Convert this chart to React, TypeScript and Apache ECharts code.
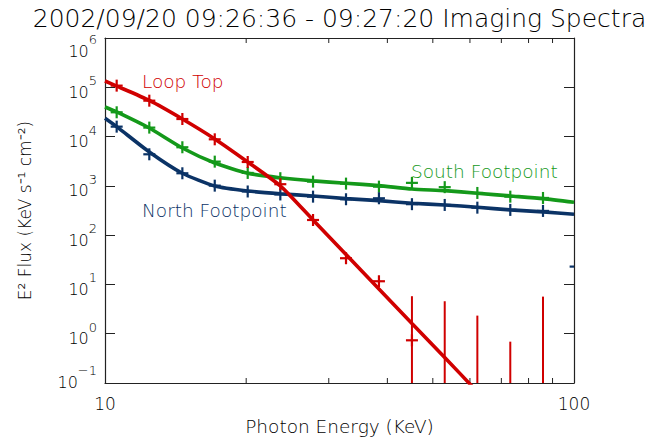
import React, { useEffect, useRef } from "react";
import * as echarts from "echarts";

// Photon energy bin centres (keV)
const energies = [10.59, 12.43, 14.62, 17.14, 20.15, 23.65, 27.77, 32.65, 38.38, 45.13, 53.01, 62.22, 73.14, 85.88, 100.8];

// Measured E^2 flux per source (KeV s^-1 cm^-2)
const loopTopFlux = [1.08e5, 5.35e4, 2.27e4, 8.8e3, 3.05e3, 1.08e3, 203, 34, 11.6, 0.735, null, null, null, null, null];
const loopTopErrLow = [null, null, null, null, null, null, null, null, null, 0.01, 0.01, 0.01, 0.01, 0.01, null];
const loopTopErrHigh = [null, null, null, null, null, null, null, null, null, 5.77, 4.56, 2.33, 0.69, 5.66, null];
const southFlux = [3.11e4, 1.52e4, 6.07e3, 3.1e3, 1.83e3, 1.43e3, 1.22e3, 1.11e3, 964, 1.15e3, 941, 718, 604, 568, null];
const northFlux = [1.59e4, 4.37e3, 1.8e3, 1.01e3, 769, 669, 604, 535, 560, 425, 410, 361, 325, 310, 23];

// Fitted model curves
const fitEnergies = [10, 10.59, 12.43, 14.62, 17.14, 20.15, 23.65, 27.77, 32.65, 38.38, 45.13, 53.01, 62.22, 73.14, 85.88, 100];
const loopTopFit = [1.34e5, 1.06e5, 5.4e4, 2.27e4, 8.94e3, 3.05e3, 1.0e3, 203, 40.6, 8.1, 1.62, 0.33, 0.066, null, null, null];
const southFit = [3.98e4, 3.16e4, 1.49e4, 5.87e3, 2.91e3, 1.8e3, 1.46e3, 1.26e3, 1.13e3, 1.01e3, 865, 799, 708, 624, 551, 465];
const northFit = [2.35e4, 1.59e4, 4.87e3, 1.8e3, 995, 788, 692, 624, 550, 501, 444, 410, 368, 325, 296, 265];

// Minor tick positions on the energy axis
const minorTickEnergies = [20, 30, 40, 50, 60, 70, 80, 90];

const TITLE = "2002/09/20 09:26:36 - 09:27:20 Imaging Spectra";
const FONT = "DejaVu Sans";
const WEIGHT = 200;
const RED = "#d00000";
const GREEN = "#14991a";
const NAVY = "#0b3366";
const AXIS = "#222";

function plusSeries(values: (number | null)[], color: string) {
  return {
    type: "custom",
    clip: true,
    z: 5,
    encode: { x: 0, y: 1 },
    data: energies.map((e, i) => [e, values[i]]).filter((d) => d[1] != null),
    renderItem: (_p: any, api: any) => {
      const p = api.coord([api.value(0), api.value(1)]);
      const h = 6;
      return {
        type: "group",
        children: [
          { type: "line", shape: { x1: p[0] - h, y1: p[1], x2: p[0] + h, y2: p[1] }, style: { stroke: color, lineWidth: 2.2 } },
          { type: "line", shape: { x1: p[0], y1: p[1] - h, x2: p[0], y2: p[1] + h }, style: { stroke: color, lineWidth: 2.2 } },
        ],
      };
    },
  };
}

function fitSeries(values: (number | null)[], color: string, z: number) {
  return {
    type: "line",
    data: fitEnergies.map((e, i) => [e, values[i]]).filter((d) => d[1] != null),
    showSymbol: false,
    symbol: "none",
    smooth: 0.2,
    clip: true,
    z,
    lineStyle: { color, width: 3.6 },
  };
}

// Decade labels as 10 with a raised exponent; the end labels are nudged inward
function expLabel(v: number) {
  const e = Math.round(Math.log10(v));
  const s = e < 0 ? "\u2212" + -e : String(e);
  const core = `{b|10}{e|${s}}`;
  if (e >= 6) return `{s|}\n${core}`;
  if (e <= -1) return `${core}\n{t|}`;
  return core;
}

const logX = (position: "bottom" | "top", labels: boolean) => ({
  type: "log",
  logBase: 10,
  min: 10,
  max: 100,
  position,
  axisLine: { show: true, lineStyle: { color: AXIS, width: 1.2 } },
  axisTick: { show: true, inside: true, length: 10, lineStyle: { color: AXIS } },
  splitLine: { show: false },
  axisLabel: {
    show: labels,
    margin: 12,
    fontFamily: FONT,
    fontWeight: WEIGHT,
    fontSize: 17,
    color: "#000",
  },
});

const logY = (position: "left" | "right", labels: boolean) => ({
  type: "log",
  logBase: 10,
  min: 0.1,
  max: 1e6,
  interval: 1,
  position,
  axisLine: { show: true, lineStyle: { color: AXIS, width: 1.2 } },
  axisTick: { show: true, inside: true, length: 10, lineStyle: { color: AXIS } },
  splitLine: { show: false },
  axisLabel: {
    show: labels,
    margin: 8,
    formatter: expLabel,
    rich: {
      b: { fontFamily: FONT, fontWeight: WEIGHT, fontSize: 16, color: "#000", lineHeight: 26, verticalAlign: "bottom" },
      e: { fontFamily: FONT, fontWeight: WEIGHT, fontSize: 13, color: "#000", verticalAlign: "top" },
      s: { fontSize: 1, lineHeight: 16 },
      t: { fontSize: 1, lineHeight: 12 },
    },
  },
});

export default function App() {
  const ref = useRef<HTMLDivElement>(null);

  useEffect(() => {
    if (!ref.current) return;
    const chart = echarts.init(ref.current, null, { renderer: "svg" });
    const xBottom: any = logX("bottom", true);
    xBottom.name = "Photon Energy (KeV)";
    xBottom.nameLocation = "middle";
    xBottom.nameGap = 34;
    xBottom.nameTextStyle = { fontFamily: FONT, fontWeight: WEIGHT, fontSize: 18.5, color: "#000", verticalAlign: "top" };
    const yLeft: any = logY("left", true);
    yLeft.name = "E\u00b2 Flux (KeV s\u207b\u00b9 cm\u207b\u00b2)";
    yLeft.nameLocation = "middle";
    yLeft.nameRotate = 90;
    yLeft.nameGap = 72;
    yLeft.nameTextStyle = { fontFamily: FONT, fontWeight: WEIGHT, fontSize: 17, color: "#000" };

    const textStyle = (text: string, x: number, y: number, fill: string, size: number, align = "left") => ({
      text, x, y, fill, align, verticalAlign: "middle", fontFamily: FONT, fontWeight: WEIGHT, fontSize: size,
    });

    chart.setOption({
      animation: false,
      backgroundColor: "#fff",
      textStyle: { fontFamily: FONT },
      grid: { left: 105, right: 78, top: 38, bottom: 59, containLabel: false },
      xAxis: [xBottom, logX("top", false)],
      yAxis: [yLeft, logY("right", false)],
      graphic: [
        { type: "text", silent: true, style: textStyle(TITLE, 339.5, 18, "#000", 25, "center") },
        { type: "text", silent: true, style: textStyle("Loop Top", 142, 81, RED, 18.5) },
        { type: "text", silent: true, style: textStyle("South Footpoint", 411, 171, GREEN, 18.5) },
        { type: "text", silent: true, style: textStyle("North Footpoint", 142, 210, NAVY, 18.5) },
      ],
      series: [
        {
          type: "custom",
          silent: true,
          clip: false,
          z: 1,
          encode: { x: 0, y: 1 },
          data: minorTickEnergies.map((e) => [e, 1]),
          renderItem: (params: any, api: any) => {
            const cs = params.coordSys;
            const x = api.coord([api.value(0), api.value(1)])[0];
            const bottom = cs.y + cs.height;
            return {
              type: "group",
              children: [
                { type: "line", shape: { x1: x, y1: bottom, x2: x, y2: bottom - 5 }, style: { stroke: AXIS, lineWidth: 1 } },
                { type: "line", shape: { x1: x, y1: cs.y, x2: x, y2: cs.y + 5 }, style: { stroke: AXIS, lineWidth: 1 } },
              ],
            };
          },
        },
        fitSeries(southFit, GREEN, 2),
        fitSeries(northFit, NAVY, 2),
        fitSeries(loopTopFit, RED, 3),
        plusSeries(southFlux, GREEN),
        plusSeries(northFlux, NAVY),
        plusSeries(loopTopFlux, RED),
        {
          type: "custom",
          clip: true,
          z: 4,
          encode: { x: 0, y: [1, 2] },
          data: energies
            .map((e, i) => [e, loopTopErrLow[i], loopTopErrHigh[i]])
            .filter((d) => d[1] != null && d[2] != null),
          renderItem: (_p: any, api: any) => {
            const lo = api.coord([api.value(0), api.value(1)]);
            const hi = api.coord([api.value(0), api.value(2)]);
            return {
              type: "line",
              shape: { x1: lo[0], y1: lo[1], x2: hi[0], y2: hi[1] },
              style: { stroke: RED, lineWidth: 2 },
            };
          },
        },
      ],
    });
    return () => chart.dispose();
  }, []);

  return <div ref={ref} style={{ position: "fixed", left: 0, top: 0, width: 652, height: 442 }} />;
}
